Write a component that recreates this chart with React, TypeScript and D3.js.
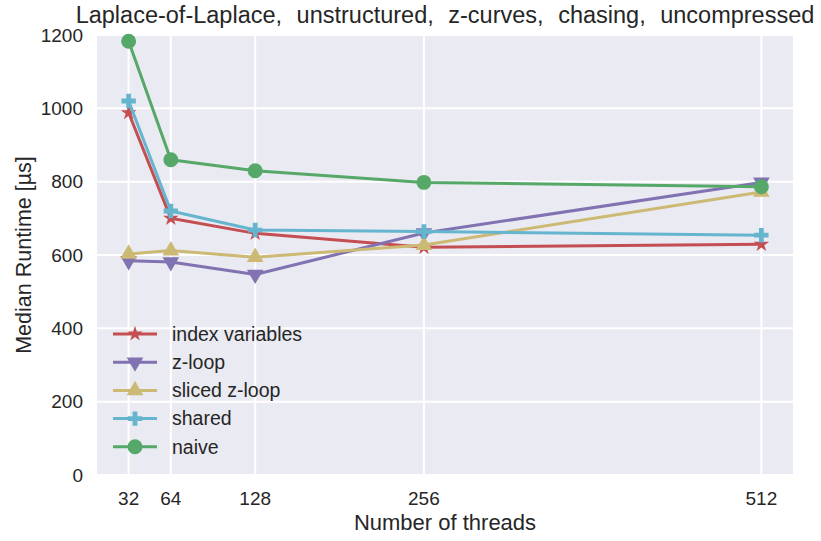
import React from "react";
import * as d3 from "d3";

const threads = [32, 64, 128, 256, 512];
const indexVariables = [988, 700, 659, 621, 629];
const zLoop = [584, 581, 547, 660, 798];
const slicedZLoop = [603, 612, 594, 627, 772];
const shared = [1020, 720, 668, 664, 654];
const naive = [1183, 860, 830, 798, 786];
const yTicks = [0, 200, 400, 600, 800, 1000, 1200];

const seriesNames = ["index variables", "z-loop", "sliced z-loop", "shared", "naive"];
const seriesValues = [indexVariables, zLoop, slicedZLoop, shared, naive];
const colors = ["#C44E52", "#8172B2", "#CCB974", "#64B5CD", "#55A868"];
const markers = ["star", "tridown", "triup", "plus", "circle"];

const W = 821, H = 541;
const left = 97, right = 793, top = 35, bottom = 475;
const FONT = "'Liberation Sans', Arial, sans-serif";

function markerPath(kind: string): { d: string; rot: number } {
  switch (kind) {
    case "star": return { d: d3.symbol(d3.symbolStar, 75)() as string, rot: 0 };
    case "tridown": return { d: d3.symbol(d3.symbolTriangle, 120)() as string, rot: 180 };
    case "triup": return { d: d3.symbol(d3.symbolTriangle, 120)() as string, rot: 0 };
    case "plus": return { d: d3.symbol(d3.symbolCross, 115)() as string, rot: 0 };
    default: return { d: d3.symbol(d3.symbolCircle, 175)() as string, rot: 0 };
  }
}

export default function App() {
  const x = d3.scaleLinear().domain([8, 536]).range([left, right]);
  const y = d3.scaleLinear().domain([0, 1200]).range([bottom, top]);
  const line = d3.line<number>().x((_, i) => x(threads[i])).y((v) => y(v));

  return (
    <svg width={W} height={H} style={{ position: "absolute", left: 0, top: 0 }}>
      <rect x={0} y={0} width={W} height={H} fill="#ffffff" />
      <rect x={left} y={top} width={right - left} height={bottom - top} fill="#EAEAF2" />
      {yTicks.map((t) => (
        <line key={"gy" + t} x1={left} x2={right} y1={y(t)} y2={y(t)} stroke="#fff" strokeWidth={2} />
      ))}
      {threads.map((t) => (
        <line key={"gx" + t} x1={x(t)} x2={x(t)} y1={top} y2={bottom} stroke="#fff" strokeWidth={2} />
      ))}
      {yTicks.map((t) => (
        <text key={"ty" + t} x={left - 14} y={y(t)} dy="0.35em" textAnchor="end" fontFamily={FONT} fontSize={19} fill="#262626">
          {t}
        </text>
      ))}
      {threads.map((t) => (
        <text key={"tx" + t} x={x(t)} y={505} textAnchor="middle" fontFamily={FONT} fontSize={19} fill="#262626">
          {t}
        </text>
      ))}
      <text x={(left + right) / 2} y={530} textAnchor="middle" fontFamily={FONT} fontSize={22} fill="#262626">
        Number of threads
      </text>
      <text transform={`translate(31,${(top + bottom) / 2}) rotate(-90)`} textAnchor="middle" fontFamily={FONT} fontSize={21.5} fill="#262626">
        Median Runtime [µs]
      </text>
      <text x={(left + right) / 2} y={23} textAnchor="middle" fontFamily={FONT} fontSize={23.5} fill="#262626" style={{ wordSpacing: "8px" }}>
        Laplace-of-Laplace, unstructured, z-curves, chasing, uncompressed
      </text>
      {seriesValues.map((vals, si) => {
        const m = markerPath(markers[si]);
        return (
          <g key={"s" + si}>
            <path d={line(vals) as string} fill="none" stroke={colors[si]} strokeWidth={3} strokeLinejoin="round" />
            {vals.map((v, i) => (
              <path key={i} d={m.d} transform={`translate(${x(threads[i])},${y(v)}) rotate(${m.rot})`} fill={colors[si]} />
            ))}
          </g>
        );
      })}
      {seriesNames.map((name, si) => {
        const m = markerPath(markers[si]);
        const ly = 334 + si * 28.2;
        return (
          <g key={"l" + si}>
            <line x1={113} x2={157} y1={ly} y2={ly} stroke={colors[si]} strokeWidth={3} />
            <path d={m.d} transform={`translate(135,${ly}) rotate(${m.rot})`} fill={colors[si]} />
            <text x={172} y={ly} dy="0.35em" fontFamily={FONT} fontSize={19.5} fill="#262626">
              {name}
            </text>
          </g>
        );
      })}
    </svg>
  );
}
